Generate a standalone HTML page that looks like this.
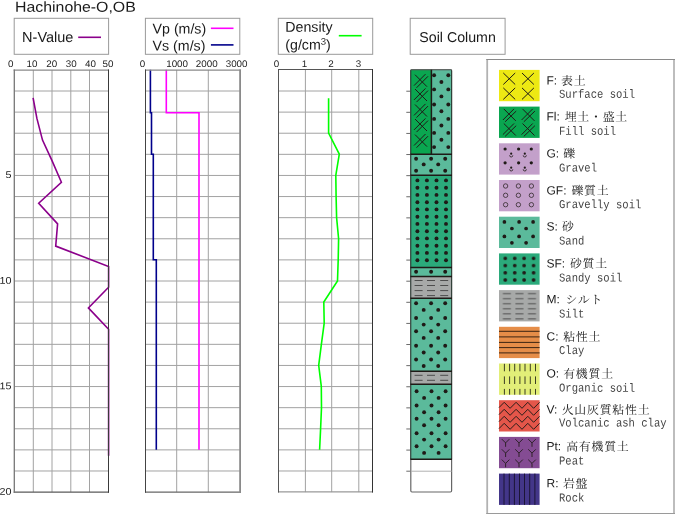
<!DOCTYPE html>
<html lang="ja"><head><meta charset="utf-8"><title>Hachinohe-O,OB</title>
<style>
html,body{margin:0;padding:0;background:#fff;}
body{width:675px;height:514px;overflow:hidden;}
svg{display:block;}
text{font-family:"Liberation Sans",sans-serif;fill:#1a1a1a;}
.t14{font-size:14.2px;}
.ax{font-size:9.5px;fill:#222;}
.lg1{font-size:12px;}
.jp{font-family:"Liberation Serif","Noto Serif CJK JP","Noto Serif CJK SC",serif;font-size:11.9px;letter-spacing:0.77px;font-weight:400;fill:#222;}
.en{font-family:"Liberation Mono",monospace;font-size:12px;fill:#444;}
</style></head><body>
<svg width="675" height="514" viewBox="0 0 675 514">
<defs>


<pattern id="pSF" patternUnits="userSpaceOnUse" x="500.6" y="254.8" width="9.43" height="7.2"><circle cx="4.7" cy="3.6" r="1.85" fill="#1f1a17"/></pattern>
<pattern id="pM" patternUnits="userSpaceOnUse" x="500.6" y="291.1" width="12.55" height="5.03"><path d="M2.3 2.5H10.3" stroke="#4d4d4d" stroke-width="1"/></pattern>
</defs>

<rect width="675" height="514" fill="#fff"/>
<text transform="rotate(0.05 15 11.7)" x="15" y="11.7" style="font-size:14.4px" textLength="120.8" lengthAdjust="spacingAndGlyphs">Hachinohe-O,OB</text>
<rect x="14.2" y="18.3" width="94.4" height="36" fill="#fff" stroke="#999" stroke-width="1"/>
<text transform="rotate(0.05 22.1 41.9)" x="22.1" y="41.9" class="t14" style="font-size:14.5px">N-Value</text>
<path d="M78.2 37.3H101" stroke="#8b008b" stroke-width="1.6"/>
<rect x="145.4" y="18.3" width="94.4" height="36" fill="#fff" stroke="#999" stroke-width="1"/>
<text transform="rotate(0.05 152.6 33.4)" x="152.6" y="33.4" class="t14">Vp (m/s)</text>
<text transform="rotate(0.05 152.6 50.4)" x="152.6" y="50.4" class="t14">Vs (m/s)</text>
<path d="M210.9 28.3H233.5" stroke="#ff00ff" stroke-width="1.6"/>
<path d="M210.9 44.9H233.5" stroke="#00008b" stroke-width="1.6"/>
<rect x="278.3" y="18.3" width="94.4" height="36" fill="#fff" stroke="#999" stroke-width="1"/>
<text transform="rotate(0.05 285.3 31.8)" x="285.3" y="31.8" class="t14">Density</text>
<text transform="rotate(0.05 285.3 49.4)" x="285.3" y="49.4" class="t14">(g/cm<tspan dy="-4.6" style="font-size:9.6px">3</tspan><tspan dy="4.6">)</tspan></text>
<path d="M338.8 35.7H361.6" stroke="#00ff00" stroke-width="1.6"/>
<rect x="410.2" y="18.3" width="94.9" height="36" fill="#fff" stroke="#999" stroke-width="1"/>
<text transform="rotate(0.05 419.3 42)" x="419.3" y="42" class="t14">Soil Column</text>
<path d="M33.30 69.90V492.10M52.00 69.90V492.10M70.80 69.90V492.10M89.50 69.90V492.10M14.20 91.01H108.60M14.20 112.12H108.60M14.20 133.23H108.60M14.20 154.34H108.60M14.20 175.45H108.60M14.20 196.56H108.60M14.20 217.67H108.60M14.20 238.78H108.60M14.20 259.89H108.60M14.20 281.00H108.60M14.20 302.11H108.60M14.20 323.22H108.60M14.20 344.33H108.60M14.20 365.44H108.60M14.20 386.55H108.60M14.20 407.66H108.60M14.20 428.77H108.60M14.20 449.88H108.60M14.20 470.99H108.60" stroke="#a2a2a2" stroke-width="1" fill="none"/>
<text transform="rotate(0.05 10.7 66.9)" x="10.7" y="66.9" class="ax" text-anchor="middle" textLength="5.46" lengthAdjust="spacingAndGlyphs">0</text>
<text transform="rotate(0.05 32.1 66.9)" x="32.1" y="66.9" class="ax" text-anchor="middle" textLength="10.92" lengthAdjust="spacingAndGlyphs">10</text>
<text transform="rotate(0.05 51.7 66.9)" x="51.7" y="66.9" class="ax" text-anchor="middle" textLength="10.92" lengthAdjust="spacingAndGlyphs">20</text>
<text transform="rotate(0.05 71.2 66.9)" x="71.2" y="66.9" class="ax" text-anchor="middle" textLength="10.92" lengthAdjust="spacingAndGlyphs">30</text>
<text transform="rotate(0.05 90.5 66.9)" x="90.5" y="66.9" class="ax" text-anchor="middle" textLength="10.92" lengthAdjust="spacingAndGlyphs">40</text>
<text transform="rotate(0.05 108 66.9)" x="108" y="66.9" class="ax" text-anchor="middle" textLength="10.92" lengthAdjust="spacingAndGlyphs">50</text>
<path d="M176.70 69.90V492.10M208.30 69.90V492.10M145.60 91.01H240.20M145.60 112.12H240.20M145.60 133.23H240.20M145.60 154.34H240.20M145.60 175.45H240.20M145.60 196.56H240.20M145.60 217.67H240.20M145.60 238.78H240.20M145.60 259.89H240.20M145.60 281.00H240.20M145.60 302.11H240.20M145.60 323.22H240.20M145.60 344.33H240.20M145.60 365.44H240.20M145.60 386.55H240.20M145.60 407.66H240.20M145.60 428.77H240.20M145.60 449.88H240.20M145.60 470.99H240.20" stroke="#a2a2a2" stroke-width="1" fill="none"/>
<text transform="rotate(0.05 142.4 66.9)" x="142.4" y="66.9" class="ax" text-anchor="middle" textLength="5.46" lengthAdjust="spacingAndGlyphs">0</text>
<text transform="rotate(0.05 177.1 66.9)" x="177.1" y="66.9" class="ax" text-anchor="middle" textLength="21.84" lengthAdjust="spacingAndGlyphs">1000</text>
<text transform="rotate(0.05 206.7 66.9)" x="206.7" y="66.9" class="ax" text-anchor="middle" textLength="21.84" lengthAdjust="spacingAndGlyphs">2000</text>
<text transform="rotate(0.05 236.6 66.9)" x="236.6" y="66.9" class="ax" text-anchor="middle" textLength="21.84" lengthAdjust="spacingAndGlyphs">3000</text>
<path d="M305.40 69.90V492.10M331.70 69.90V492.10M358.80 69.90V492.10M278.30 91.01H372.70M278.30 112.12H372.70M278.30 133.23H372.70M278.30 154.34H372.70M278.30 175.45H372.70M278.30 196.56H372.70M278.30 217.67H372.70M278.30 238.78H372.70M278.30 259.89H372.70M278.30 281.00H372.70M278.30 302.11H372.70M278.30 323.22H372.70M278.30 344.33H372.70M278.30 365.44H372.70M278.30 386.55H372.70M278.30 407.66H372.70M278.30 428.77H372.70M278.30 449.88H372.70M278.30 470.99H372.70" stroke="#a2a2a2" stroke-width="1" fill="none"/>
<text transform="rotate(0.05 276.6 66.9)" x="276.6" y="66.9" class="ax" text-anchor="middle" textLength="5.46" lengthAdjust="spacingAndGlyphs">0</text>
<text transform="rotate(0.05 304.6 66.9)" x="304.6" y="66.9" class="ax" text-anchor="middle" textLength="5.46" lengthAdjust="spacingAndGlyphs">1</text>
<text transform="rotate(0.05 331.1 66.9)" x="331.1" y="66.9" class="ax" text-anchor="middle" textLength="5.46" lengthAdjust="spacingAndGlyphs">2</text>
<text transform="rotate(0.05 358.5 66.9)" x="358.5" y="66.9" class="ax" text-anchor="middle" textLength="5.46" lengthAdjust="spacingAndGlyphs">3</text>
<text transform="rotate(0.05 11.5 178.10)" x="11.5" y="178.10" class="ax" style="font-size:9.7px" text-anchor="end" textLength="5.98" lengthAdjust="spacingAndGlyphs">5</text>
<text transform="rotate(0.05 11.5 283.65)" x="11.5" y="283.65" class="ax" style="font-size:9.7px" text-anchor="end" textLength="11.97" lengthAdjust="spacingAndGlyphs">10</text>
<text transform="rotate(0.05 11.5 389.20)" x="11.5" y="389.20" class="ax" style="font-size:9.7px" text-anchor="end" textLength="11.97" lengthAdjust="spacingAndGlyphs">15</text>
<text transform="rotate(0.05 11.5 494.75)" x="11.5" y="494.75" class="ax" style="font-size:9.7px" text-anchor="end" textLength="11.97" lengthAdjust="spacingAndGlyphs">20</text>
<polyline points="33.1,97.9 36.9,118.4 42.5,140.1 52.0,160.6 61.4,182.3 38.7,203.2 57.6,223.9 55.7,246.1 108.6,266.5 108.6,287.2 88.4,307.9 108.6,329.2 108.6,455.7" fill="none" stroke="#8b008b" stroke-width="1.6" stroke-linejoin="miter"/>
<polyline points="166.3,69.8 166.3,112.7 199,112.7 199,449.8" fill="none" stroke="#ff00ff" stroke-width="1.6"/>
<polyline points="150.4,69.8 150.4,112.7 151.5,112.7 151.5,154.2 153.3,154.2 153.3,259.8 156.3,259.8 156.3,449.8" fill="none" stroke="#00008b" stroke-width="1.6"/>
<polyline points="328.6,98.3 328.6,133.1 339.3,154.2 335.8,175.3 336.1,196.5 336.6,217.6 338.6,238.7 338.2,259.8 337.5,280.9 323.8,302.0 324.2,323.1 321.4,344.2 318.7,365.3 321.3,386.4 321.5,407.6 320.6,428.7 319.6,449.8" fill="none" stroke="#00ff00" stroke-width="1.6"/>
<path d="M13.65 70.1H109.00" stroke="#8a8a8a" stroke-width="1.3" fill="none"/>
<path d="M13.65 492.1H109.00" stroke="#5a5a5a" stroke-width="1.2" fill="none"/>
<path d="M14.3 69.45V492.70" stroke="#777" stroke-width="1.3" fill="none"/>
<path d="M108.5 69.45V492.70" stroke="#3a3a3a" stroke-width="1" fill="none"/>
<path d="M145.00 70.1H241.00" stroke="#8a8a8a" stroke-width="1.3" fill="none"/>
<path d="M145.00 492.1H241.00" stroke="#666" stroke-width="1.2" fill="none"/>
<path d="M145.5 69.45V492.70" stroke="#444" stroke-width="1" fill="none"/>
<path d="M240.1 69.45V492.70" stroke="#8a8a8a" stroke-width="1.8" fill="none"/>
<path d="M278.00 69.5H373.00" stroke="#555" stroke-width="1" fill="none"/>
<path d="M278.00 491.9H373.00" stroke="#999" stroke-width="1.3" fill="none"/>
<path d="M278.5 69.00V492.55" stroke="#555" stroke-width="1" fill="none"/>
<path d="M372.5 69.00V492.55" stroke="#333" stroke-width="1" fill="none"/>
<path d="M406.3 91.21H410.8M406.3 112.32H410.8M406.3 133.43H410.8M406.3 154.54H410.8M406.3 175.65H410.8M406.3 196.76H410.8M406.3 217.87H410.8M406.3 238.98H410.8M406.3 260.09H410.8M406.3 281.20H410.8M406.3 302.31H410.8M406.3 323.42H410.8M406.3 344.53H410.8M406.3 365.64H410.8M406.3 386.75H410.8M406.3 407.86H410.8M406.3 428.97H410.8M406.3 450.08H410.8M406.3 471.19H410.8" stroke="#6a6a6a" stroke-width="1" fill="none"/>
<rect x="410.8" y="69.80" width="40.80" height="422.20" rx="1.2" fill="#fff" stroke="#666" stroke-width="1.2"/>
<path d="M410.8 471.19H451.6" stroke="#b0b0b0" stroke-width="1" fill="none"/>
<clipPath id="c1"><rect x="410.8" y="69.80" width="20.60" height="84.44"/></clipPath>
<rect x="410.8" y="69.80" width="20.60" height="84.44" fill="#0aa650"/>
<g clip-path="url(#c1)" fill="#1f1a17"><path d="M415.0 74.7L427.0 86.7M425.5 74.1L414.0 85.6M428.0 76.3L416.5 87.8" stroke="#1f1a17" stroke-width="1" fill="none"/><path d="M415.0 89.0L427.0 101.0M425.5 88.4L414.0 99.9M428.0 90.6L416.5 102.1" stroke="#1f1a17" stroke-width="1" fill="none"/><path d="M415.0 104.5L427.0 116.5M425.5 103.9L414.0 115.4M428.0 106.1L416.5 117.6" stroke="#1f1a17" stroke-width="1" fill="none"/><path d="M415.0 119.0L427.0 131.0M425.5 118.4L414.0 129.9M428.0 120.6L416.5 132.1" stroke="#1f1a17" stroke-width="1" fill="none"/><path d="M415.0 134.6L427.0 146.6M425.5 134.0L414.0 145.5M428.0 136.2L416.5 147.7" stroke="#1f1a17" stroke-width="1" fill="none"/></g>
<clipPath id="c2"><rect x="431.4" y="69.80" width="20.20" height="84.44"/></clipPath>
<rect x="431.4" y="69.80" width="20.20" height="84.44" fill="#5bba9b"/>
<g clip-path="url(#c2)" fill="#1f1a17"><circle cx="434.1" cy="75.2" r="1.95"/><circle cx="448.3" cy="75.2" r="1.95"/><circle cx="441.4" cy="82.0" r="1.95"/><circle cx="434.1" cy="89.4" r="1.95"/><circle cx="448.3" cy="89.4" r="1.95"/><circle cx="441.4" cy="96.4" r="1.95"/><circle cx="434.1" cy="104.5" r="1.95"/><circle cx="448.3" cy="104.5" r="1.95"/><circle cx="441.4" cy="111.2" r="1.95"/><circle cx="434.1" cy="118.9" r="1.95"/><circle cx="448.3" cy="118.9" r="1.95"/><circle cx="441.4" cy="125.5" r="1.95"/><circle cx="434.1" cy="132.9" r="1.95"/><circle cx="448.3" cy="132.9" r="1.95"/><circle cx="441.4" cy="139.8" r="1.95"/><circle cx="434.1" cy="147.1" r="1.95"/><circle cx="448.3" cy="147.1" r="1.95"/></g>
<clipPath id="c3"><rect x="410.8" y="154.24" width="40.80" height="21.11"/></clipPath>
<rect x="410.8" y="154.24" width="40.80" height="21.11" fill="#5bba9b"/>
<g clip-path="url(#c3)" fill="#1f1a17"><circle cx="416.1" cy="158.7" r="1.95"/><circle cx="431.1" cy="158.7" r="1.95"/><circle cx="445.2" cy="158.7" r="1.95"/><circle cx="423.7" cy="164.4" r="1.95"/><circle cx="438.2" cy="164.4" r="1.95"/><circle cx="416.1" cy="170.8" r="1.95"/><circle cx="431.1" cy="170.8" r="1.95"/><circle cx="445.2" cy="170.8" r="1.95"/></g>
<clipPath id="c4"><rect x="410.8" y="175.35" width="40.80" height="92.04"/></clipPath>
<rect x="410.8" y="175.35" width="40.80" height="92.04" fill="#2baa7b"/>
<g clip-path="url(#c4)" fill="#1f1a17"><circle cx="417.4" cy="180.4" r="1.95"/><circle cx="426.9" cy="180.4" r="1.95"/><circle cx="436.5" cy="180.4" r="1.95"/><circle cx="446" cy="180.4" r="1.95"/><circle cx="417.4" cy="187.7" r="1.95"/><circle cx="426.9" cy="187.7" r="1.95"/><circle cx="436.5" cy="187.7" r="1.95"/><circle cx="446" cy="187.7" r="1.95"/><circle cx="417.4" cy="194.9" r="1.95"/><circle cx="426.9" cy="194.9" r="1.95"/><circle cx="436.5" cy="194.9" r="1.95"/><circle cx="446" cy="194.9" r="1.95"/><circle cx="417.4" cy="202.2" r="1.95"/><circle cx="426.9" cy="202.2" r="1.95"/><circle cx="436.5" cy="202.2" r="1.95"/><circle cx="446" cy="202.2" r="1.95"/><circle cx="417.4" cy="209.4" r="1.95"/><circle cx="426.9" cy="209.4" r="1.95"/><circle cx="436.5" cy="209.4" r="1.95"/><circle cx="446" cy="209.4" r="1.95"/><circle cx="417.4" cy="216.7" r="1.95"/><circle cx="426.9" cy="216.7" r="1.95"/><circle cx="436.5" cy="216.7" r="1.95"/><circle cx="446" cy="216.7" r="1.95"/><circle cx="417.4" cy="223.9" r="1.95"/><circle cx="426.9" cy="223.9" r="1.95"/><circle cx="436.5" cy="223.9" r="1.95"/><circle cx="446" cy="223.9" r="1.95"/><circle cx="417.4" cy="231.2" r="1.95"/><circle cx="426.9" cy="231.2" r="1.95"/><circle cx="436.5" cy="231.2" r="1.95"/><circle cx="446" cy="231.2" r="1.95"/><circle cx="417.4" cy="238.4" r="1.95"/><circle cx="426.9" cy="238.4" r="1.95"/><circle cx="436.5" cy="238.4" r="1.95"/><circle cx="446" cy="238.4" r="1.95"/><circle cx="417.4" cy="245.7" r="1.95"/><circle cx="426.9" cy="245.7" r="1.95"/><circle cx="436.5" cy="245.7" r="1.95"/><circle cx="446" cy="245.7" r="1.95"/><circle cx="417.4" cy="252.9" r="1.95"/><circle cx="426.9" cy="252.9" r="1.95"/><circle cx="436.5" cy="252.9" r="1.95"/><circle cx="446" cy="252.9" r="1.95"/><circle cx="417.4" cy="260.2" r="1.95"/><circle cx="426.9" cy="260.2" r="1.95"/><circle cx="436.5" cy="260.2" r="1.95"/><circle cx="446" cy="260.2" r="1.95"/></g>
<clipPath id="c5"><rect x="410.8" y="267.39" width="40.80" height="9.08"/></clipPath>
<rect x="410.8" y="267.39" width="40.80" height="9.08" fill="#5bba9b"/>
<g clip-path="url(#c5)" fill="#1f1a17"><circle cx="416.1" cy="271.8" r="1.95"/><circle cx="431.1" cy="271.8" r="1.95"/><circle cx="445.2" cy="271.8" r="1.95"/></g>
<clipPath id="c6"><rect x="410.8" y="276.47" width="40.80" height="21.74"/></clipPath>
<rect x="410.8" y="276.47" width="40.80" height="21.74" fill="#a7a9a8"/>
<g clip-path="url(#c6)" fill="#1f1a17"><path d="M414.6 280.5H422.6M427 280.5H435M440.2 280.5H448.2" stroke="#4d4d4d" stroke-width="1"/><path d="M414.6 285.5H422.6M427 285.5H435M440.2 285.5H448.2" stroke="#4d4d4d" stroke-width="1"/><path d="M414.6 290.6H422.6M427 290.6H435M440.2 290.6H448.2" stroke="#4d4d4d" stroke-width="1"/><path d="M414.6 295.6H422.6M427 295.6H435M440.2 295.6H448.2" stroke="#4d4d4d" stroke-width="1"/></g>
<clipPath id="c7"><rect x="410.8" y="298.21" width="40.80" height="73.04"/></clipPath>
<rect x="410.8" y="298.21" width="40.80" height="73.04" fill="#5bba9b"/>
<g clip-path="url(#c7)" fill="#1f1a17"><circle cx="416.1" cy="303.2" r="1.95"/><circle cx="431.1" cy="303.2" r="1.95"/><circle cx="445.2" cy="303.2" r="1.95"/><circle cx="423.7" cy="309.9" r="1.95"/><circle cx="438.2" cy="309.9" r="1.95"/><circle cx="416.1" cy="318.0" r="1.95"/><circle cx="431.1" cy="318.0" r="1.95"/><circle cx="445.2" cy="318.0" r="1.95"/><circle cx="423.7" cy="324.6" r="1.95"/><circle cx="438.2" cy="324.6" r="1.95"/><circle cx="416.1" cy="331.3" r="1.95"/><circle cx="431.1" cy="331.3" r="1.95"/><circle cx="445.2" cy="331.3" r="1.95"/><circle cx="423.7" cy="337.9" r="1.95"/><circle cx="438.2" cy="337.9" r="1.95"/><circle cx="416.1" cy="345.7" r="1.95"/><circle cx="431.1" cy="345.7" r="1.95"/><circle cx="445.2" cy="345.7" r="1.95"/><circle cx="423.7" cy="352.5" r="1.95"/><circle cx="438.2" cy="352.5" r="1.95"/><circle cx="416.1" cy="359.5" r="1.95"/><circle cx="431.1" cy="359.5" r="1.95"/><circle cx="445.2" cy="359.5" r="1.95"/><circle cx="423.7" cy="366.0" r="1.95"/><circle cx="438.2" cy="366.0" r="1.95"/></g>
<clipPath id="c8"><rect x="410.8" y="371.25" width="40.80" height="13.09"/></clipPath>
<rect x="410.8" y="371.25" width="40.80" height="13.09" fill="#a7a9a8"/>
<g clip-path="url(#c8)" fill="#1f1a17"><path d="M414.6 375.3H422.6M427 375.3H435M440.2 375.3H448.2" stroke="#4d4d4d" stroke-width="1"/><path d="M414.6 380.3H422.6M427 380.3H435M440.2 380.3H448.2" stroke="#4d4d4d" stroke-width="1"/></g>
<clipPath id="c9"><rect x="410.8" y="384.34" width="40.80" height="74.94"/></clipPath>
<rect x="410.8" y="384.34" width="40.80" height="74.94" fill="#5bba9b"/>
<g clip-path="url(#c9)" fill="#1f1a17"><circle cx="416.6" cy="391.3" r="1.95"/><circle cx="431.5" cy="391.3" r="1.95"/><circle cx="445.6" cy="391.3" r="1.95"/><circle cx="424.1" cy="397.9" r="1.95"/><circle cx="438.6" cy="397.9" r="1.95"/><circle cx="416.6" cy="405.5" r="1.95"/><circle cx="431.5" cy="405.5" r="1.95"/><circle cx="445.6" cy="405.5" r="1.95"/><circle cx="424.1" cy="412.3" r="1.95"/><circle cx="438.6" cy="412.3" r="1.95"/><circle cx="416.6" cy="418.8" r="1.95"/><circle cx="431.5" cy="418.8" r="1.95"/><circle cx="445.6" cy="418.8" r="1.95"/><circle cx="424.1" cy="425.2" r="1.95"/><circle cx="438.6" cy="425.2" r="1.95"/><circle cx="416.6" cy="433.2" r="1.95"/><circle cx="431.5" cy="433.2" r="1.95"/><circle cx="445.6" cy="433.2" r="1.95"/><circle cx="424.1" cy="439.6" r="1.95"/><circle cx="438.6" cy="439.6" r="1.95"/><circle cx="416.6" cy="446.3" r="1.95"/><circle cx="431.5" cy="446.3" r="1.95"/><circle cx="445.6" cy="446.3" r="1.95"/><circle cx="424.1" cy="452.9" r="1.95"/><circle cx="438.6" cy="452.9" r="1.95"/></g>
<path d="M410.8 69.80V459.28M451.6 69.80V459.28" stroke="#2a3a32" stroke-width="1" fill="none"/>
<path d="M410.8 69.80H451.6" stroke="#555" stroke-width="1" fill="none"/>
<path d="M410.40000000000003 154.24H452.0M410.40000000000003 175.35H452.0M410.40000000000003 267.39H452.0M410.40000000000003 276.47H452.0M410.40000000000003 298.21H452.0M410.40000000000003 371.25H452.0M410.40000000000003 384.34H452.0M410.40000000000003 459.28H452.0M431.4 69.80V154.24" stroke="#1f1a17" stroke-width="1.5" fill="none"/>
<path d="M487.2 59V514" stroke="#b2b2b2" stroke-width="1.8" fill="none"/><path d="M674 59V514" stroke="#bdbdbd" stroke-width="2" fill="none"/><path d="M486.3 59.5H675" stroke="#8a8a8a" stroke-width="1" fill="none"/><path d="M486.3 513.5H675" stroke="#9a9a9a" stroke-width="1" fill="none"/>
<rect x="499" y="69.90" width="40.6" height="31.3" fill="#ede913"/>
<path d="M503.3 73.0L515.2 84.5M515.2 73.0L503.3 84.5M522.0 73.0L533.9 84.5M533.9 73.0L522.0 84.5M503.3 87.9L515.2 99.4M515.2 87.9L503.3 99.4M522.0 87.9L533.9 99.4M533.9 87.9L522.0 99.4" stroke="#1f1a17" stroke-width="1" fill="none"/>
<text transform="rotate(0.05 546.5 84.5)" x="546.5" y="84.5" class="lg1">F:</text>
<text transform="rotate(0.05 561.0 84.9)" x="561.0" y="84.9" class="jp">表土</text>
<text transform="rotate(0.05 559 97.7)" x="559" y="97.7" class="en" textLength="76.0" lengthAdjust="spacingAndGlyphs">Surface soil</text>
<rect x="499" y="106.60" width="40.6" height="31.3" fill="#0aa650"/>
<path d="M503.8 108.9L515.8 120.9M514.0 108.9L502.9 120.0M516.2 111.1L505.1 121.8M522.5 108.9L534.5 120.9M532.7 108.9L521.6 120.0M534.9 111.1L523.8 121.8M503.8 123.5L515.8 135.5M514.0 123.5L502.9 134.6M516.2 125.7L505.1 136.4M522.5 123.5L534.5 135.5M532.7 123.5L521.6 134.6M534.9 125.7L523.8 136.4" stroke="#1f1a17" stroke-width="1" fill="none"/>
<text transform="rotate(0.05 546.5 120.6)" x="546.5" y="120.6" class="lg1">Fl:</text>
<text transform="rotate(0.05 564.7 121.0)" x="564.7" y="121.0" class="jp">埋土・盛土</text>
<text transform="rotate(0.05 559 134.7)" x="559" y="134.7" class="en" textLength="57.0" lengthAdjust="spacingAndGlyphs">Fill soil</text>
<rect x="499" y="143.30" width="40.6" height="31.3" fill="#c3a0ca"/>
<circle cx="505.1" cy="149" r="1.6" fill="#1f1a17"/><circle cx="518.6" cy="149" r="1.6" fill="#1f1a17"/><circle cx="531.3" cy="149" r="1.6" fill="#1f1a17"/><circle cx="505.1" cy="162.8" r="1.6" fill="#1f1a17"/><circle cx="518.6" cy="162.8" r="1.6" fill="#1f1a17"/><circle cx="531.3" cy="162.8" r="1.6" fill="#1f1a17"/><circle cx="511.2" cy="153.7" r="1.1" fill="#1f1a17"/><path d="M509.6 155.3A1.6 1.7 0 0 0 512.8 155.3" fill="none" stroke="#1f1a17" stroke-width="0.8"/><circle cx="524.8" cy="153.7" r="1.1" fill="#1f1a17"/><path d="M523.2 155.3A1.6 1.7 0 0 0 526.4 155.3" fill="none" stroke="#1f1a17" stroke-width="0.8"/><circle cx="511.2" cy="167.7" r="1.1" fill="#1f1a17"/><path d="M509.6 169.3A1.6 1.7 0 0 0 512.8 169.3" fill="none" stroke="#1f1a17" stroke-width="0.8"/><circle cx="524.8" cy="167.7" r="1.1" fill="#1f1a17"/><path d="M523.2 169.3A1.6 1.7 0 0 0 526.4 169.3" fill="none" stroke="#1f1a17" stroke-width="0.8"/>
<text transform="rotate(0.05 546.5 157.4)" x="546.5" y="157.4" class="lg1">G:</text>
<text transform="rotate(0.05 563.2 157.8)" x="563.2" y="157.8" class="jp">礫</text>
<text transform="rotate(0.05 559 171.4)" x="559" y="171.4" class="en" textLength="38.0" lengthAdjust="spacingAndGlyphs">Gravel</text>
<rect x="499" y="180.00" width="40.6" height="31.3" fill="#c3a0ca"/>
<circle cx="505.6" cy="186" r="2.2" fill="none" stroke="#1f1a17" stroke-width="0.7"/><circle cx="518.4" cy="186" r="2.2" fill="none" stroke="#1f1a17" stroke-width="0.7"/><circle cx="531.4" cy="186" r="2.2" fill="none" stroke="#1f1a17" stroke-width="0.7"/><circle cx="505.6" cy="195.3" r="2.2" fill="none" stroke="#1f1a17" stroke-width="0.7"/><circle cx="518.4" cy="195.3" r="2.2" fill="none" stroke="#1f1a17" stroke-width="0.7"/><circle cx="531.4" cy="195.3" r="2.2" fill="none" stroke="#1f1a17" stroke-width="0.7"/><circle cx="505.6" cy="204.7" r="2.2" fill="none" stroke="#1f1a17" stroke-width="0.7"/><circle cx="518.4" cy="204.7" r="2.2" fill="none" stroke="#1f1a17" stroke-width="0.7"/><circle cx="531.4" cy="204.7" r="2.2" fill="none" stroke="#1f1a17" stroke-width="0.7"/>
<text transform="rotate(0.05 546.5 194.4)" x="546.5" y="194.4" class="lg1">GF:</text>
<text transform="rotate(0.05 571.4 194.8)" x="571.4" y="194.8" class="jp">礫質土</text>
<text transform="rotate(0.05 559 208.1)" x="559" y="208.1" class="en" textLength="82.3" lengthAdjust="spacingAndGlyphs">Gravelly soil</text>
<rect x="499" y="216.70" width="40.6" height="31.3" fill="#5bba9b"/>
<circle cx="504.4" cy="221.9" r="1.85" fill="#1f1a17"/><circle cx="519.1" cy="221.9" r="1.85" fill="#1f1a17"/><circle cx="533.1" cy="221.9" r="1.85" fill="#1f1a17"/><circle cx="511.9" cy="228.5" r="1.85" fill="#1f1a17"/><circle cx="526.1" cy="228.5" r="1.85" fill="#1f1a17"/><circle cx="504.4" cy="236.4" r="1.85" fill="#1f1a17"/><circle cx="519.1" cy="236.4" r="1.85" fill="#1f1a17"/><circle cx="533.1" cy="236.4" r="1.85" fill="#1f1a17"/><circle cx="511.9" cy="242.8" r="1.85" fill="#1f1a17"/><circle cx="526.1" cy="242.8" r="1.85" fill="#1f1a17"/>
<text transform="rotate(0.05 546.5 230.4)" x="546.5" y="230.4" class="lg1">S:</text>
<text transform="rotate(0.05 562.0 230.8)" x="562.0" y="230.8" class="jp">砂</text>
<text transform="rotate(0.05 559 244.6)" x="559" y="244.6" class="en" textLength="25.3" lengthAdjust="spacingAndGlyphs">Sand</text>
<rect x="499" y="253.40" width="40.6" height="31.3" fill="#2baa7b"/>
<rect x="499" y="253.40" width="40.6" height="31.3" fill="url(#pSF)"/>
<text transform="rotate(0.05 546.5 267.4)" x="546.5" y="267.4" class="lg1">SF:</text>
<text transform="rotate(0.05 569.9 267.8)" x="569.9" y="267.8" class="jp">砂質土</text>
<text transform="rotate(0.05 559 281.4)" x="559" y="281.4" class="en" textLength="63.3" lengthAdjust="spacingAndGlyphs">Sandy soil</text>
<rect x="499" y="290.10" width="40.6" height="31.3" fill="#a7a9a8"/>
<rect x="499" y="290.10" width="40.6" height="31.3" fill="url(#pM)"/>
<text transform="rotate(0.05 546.5 303.3)" x="546.5" y="303.3" class="lg1">M:</text>
<text transform="rotate(0.05 565.4 303.7)" x="565.4" y="303.7" class="jp">シルト</text>
<text transform="rotate(0.05 559 317.4)" x="559" y="317.4" class="en" textLength="25.3" lengthAdjust="spacingAndGlyphs">Silt</text>
<rect x="499" y="326.80" width="40.6" height="31.3" fill="#e58d48"/>
<path d="M499 331.3H539.6M499 336.9H539.6M499 342.4H539.6M499 347.6H539.6M499 352.9H539.6" stroke="#3b2412" stroke-width="1"/>
<text transform="rotate(0.05 546.5 340.5)" x="546.5" y="340.5" class="lg1">C:</text>
<text transform="rotate(0.05 563.2 340.9)" x="563.2" y="340.9" class="jp">粘性土</text>
<text transform="rotate(0.05 559 354.0)" x="559" y="354.0" class="en" textLength="25.3" lengthAdjust="spacingAndGlyphs">Clay</text>
<rect x="499" y="363.50" width="40.6" height="31.3" fill="#e2ee78"/>
<path d="M504.4 363.8V371.3M504.4 376.4V384M504.4 388.9V394.7M509.6 363.8V371.3M509.6 376.4V384M509.6 388.9V394.7M514.7 363.8V371.3M514.7 376.4V384M514.7 388.9V394.7M519.9 363.8V371.3M519.9 376.4V384M519.9 388.9V394.7M525.0 363.8V371.3M525.0 376.4V384M525.0 388.9V394.7M530.3 363.8V371.3M530.3 376.4V384M530.3 388.9V394.7M535.5 363.8V371.3M535.5 376.4V384M535.5 388.9V394.7" stroke="#1e1e14" stroke-width="0.85" fill="none"/>
<text transform="rotate(0.05 546.5 377.6)" x="546.5" y="377.6" class="lg1">O:</text>
<text transform="rotate(0.05 563.2 378.0)" x="563.2" y="378.0" class="jp">有機質土</text>
<text transform="rotate(0.05 559 391.6)" x="559" y="391.6" class="en" textLength="76.0" lengthAdjust="spacingAndGlyphs">Organic soil</text>
<rect x="499" y="400.20" width="40.6" height="31.3" fill="#e4564a"/>
<path d="M499 407.6L504.2 402.3L510.1 408.3L516.1 402.3L522 408.3L527.8 402.3L533.6 408.3L539.6 402.3M499 414.6L504.2 409.3L510.1 415.3L516.1 409.3L522 415.3L527.8 409.3L533.6 415.3L539.6 409.3M499 421.6L504.2 416.3L510.1 422.3L516.1 416.3L522 422.3L527.8 416.3L533.6 422.3L539.6 416.3M499 428.6L504.2 423.3L510.1 429.3L516.1 423.3L522 429.3L527.8 423.3L533.6 429.3L539.6 423.3" stroke="#1f1a17" stroke-width="0.95" fill="none" stroke-linejoin="miter"/>
<text transform="rotate(0.05 546.5 413.6)" x="546.5" y="413.6" class="lg1">V:</text>
<text transform="rotate(0.05 561.7 414.0)" x="561.7" y="414.0" class="jp">火山灰質粘性土</text>
<text transform="rotate(0.05 559 426.4)" x="559" y="426.4" class="en" textLength="107.6" lengthAdjust="spacingAndGlyphs">Volcanic ash clay</text>
<rect x="499" y="436.90" width="40.6" height="31.3" fill="#844c93"/>
<path d="M501.8 439.1L505.6 442.9L509.4 439.1M505.6 442.9V446.8M515.2 439.1L519.0 442.9L522.8 439.1M519.0 442.9V446.8M528.2 439.1L532.0 442.9L535.8 439.1M532.0 442.9V446.8M501.8 449.3L505.6 453.1L509.4 449.3M505.6 453.1V457.0M515.2 449.3L519.0 453.1L522.8 449.3M519.0 453.1V457.0M528.2 449.3L532.0 453.1L535.8 449.3M532.0 453.1V457.0M501.8 459.6L505.6 463.4L509.4 459.6M505.6 463.4V467.3M515.2 459.6L519.0 463.4L522.8 459.6M519.0 463.4V467.3M528.2 459.6L532.0 463.4L535.8 459.6M532.0 463.4V467.3" stroke="#1f1a17" stroke-width="0.85" fill="none"/>
<text transform="rotate(0.05 546.5 450.3)" x="546.5" y="450.3" class="lg1">Pt:</text>
<text transform="rotate(0.05 566.2 450.7)" x="566.2" y="450.7" class="jp">高有機質土</text>
<text transform="rotate(0.05 559 464.4)" x="559" y="464.4" class="en" textLength="25.3" lengthAdjust="spacingAndGlyphs">Peat</text>
<rect x="499" y="473.60" width="40.6" height="31.3" fill="#433689"/>
<path d="M504 473.6V504.9M509.3 473.6V504.9M514.4 473.6V504.9M519.5 473.6V504.9M524.5 473.6V504.9M529.7 473.6V504.9M534.9 473.6V504.9" stroke="#17122e" stroke-width="0.9" fill="none"/>
<text transform="rotate(0.05 546.5 487.3)" x="546.5" y="487.3" class="lg1">R:</text>
<text transform="rotate(0.05 562.9 487.7)" x="562.9" y="487.7" class="jp">岩盤</text>
<text transform="rotate(0.05 559 501.4)" x="559" y="501.4" class="en" textLength="25.3" lengthAdjust="spacingAndGlyphs">Rock</text>
</svg></body></html>
